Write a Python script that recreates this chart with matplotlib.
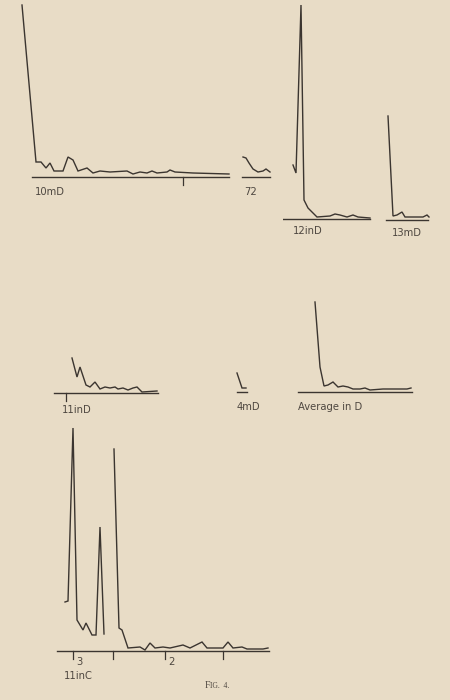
import matplotlib
matplotlib.use("Agg")
import matplotlib.pyplot as plt
import numpy as np

W, H = 450, 700
PAPER = "#e8dcc6"
INK = "#3b3530"
TXT = "#4e4740"

# ---- data: each trace = positions along the strip, heights above the baseline ----
# 10 m D
p10_x = [22, 36, 41, 46, 50, 54, 63, 68, 73, 78, 87, 93, 100, 110, 127, 133, 140,
         147, 152, 157, 167, 170, 175, 193, 229]
p10_y = [172, 15, 15, 9, 14, 6, 6, 20, 17, 6, 9, 4, 6, 5, 6, 3, 5, 4, 6, 4, 5, 7,
         5, 4, 3]
# 72
p72_x = [243, 246, 249, 253, 258, 263, 266, 270]
p72_y = [20, 19, 14, 8, 5, 6, 8, 5]
# 12 in D
p12_x = [293, 296, 301, 304, 308, 313, 317, 330, 335, 340, 347, 353, 358, 370]
p12_y = [54, 46, 214, 19, 11, 6, 2, 3, 5, 4, 2, 4, 2, 1]
# 13 m D
p13_x = [388, 393, 397, 402, 405, 423, 427, 429]
p13_y = [104, 4, 5, 8, 3, 3, 5, 3]
# 11 in D
p11d_x = [72, 77, 80, 86, 90, 95, 100, 105, 110, 115, 118, 123, 128, 133, 137,
          142, 157]
p11d_y = [35, 16, 26, 8, 6, 11, 4, 6, 5, 6, 4, 5, 3, 5, 6, 1, 2]
# 4 m D
p4_x = [237, 242, 246]
p4_y = [19, 4, 4]
# Average in D
pav_x = [315, 320, 324, 328, 333, 338, 343, 348, 353, 360, 365, 370, 383, 393,
         407, 411]
pav_y = [90, 25, 6, 7, 10, 5, 6, 5, 3, 3, 4, 2, 3, 3, 3, 4]
# 11 in C (two separate strokes, split by NaN)
p11c_x = [65, 68, 73, 77, 83, 86, 92, 96, 100, 104, np.nan,
          114, 119, 122, 128, 140, 145, 150, 155, 163, 170, 183, 190, 202, 207,
          223, 228, 233, 242, 247, 263, 268]
p11c_y = [49, 50, 223, 31, 21, 28, 16, 16, 124, 17, np.nan,
          202, 23, 21, 3, 4, 1, 8, 3, 4, 3, 6, 3, 9, 3, 3, 9, 3, 4, 2, 2, 3]

labels = ["10mD", "72", "12inD", "13mD", "11inD", "4mD", "Average in D", "11inC"]
c_tick_labels = ["3", "2"]

fig = plt.figure(figsize=(W / 100, H / 100), dpi=100)
fig.patch.set_facecolor(PAPER)

LW = 1.0


def panel(left, right, base, top, depth, xs, ys, base_l, base_r, ticks=()):
    ax = fig.add_axes([left / W, (H - base - depth) / H,
                       (right - left) / W, (top + depth) / H])
    ax.set_xlim(left, right)
    ax.set_ylim(-depth, top)
    ax.set_facecolor("none")
    for s in ax.spines.values():
        s.set_visible(False)
    ax.plot(xs, ys, color=INK, lw=LW, solid_joinstyle="miter")
    ax.plot([base_l, base_r], [0, 0], color=INK, lw=LW)
    for t in ticks:
        ax.plot([t, t], [0, -8], color=INK, lw=0.9)
    ax.set_xticks([])
    ax.set_yticks([])
    return ax


panel(10, 240, 177, 180, 12, p10_x, p10_y, 32, 229, ticks=[183])
panel(238, 275, 177, 25, 5, p72_x, p72_y, 242, 270)
panel(283, 375, 219, 220, 5, p12_x, p12_y, 283, 370)
panel(383, 432, 220, 110, 5, p13_x, p13_y, 386, 428)
panel(50, 162, 393, 40, 10, p11d_x, p11d_y, 54, 158, ticks=[66])
panel(232, 250, 392, 22, 5, p4_x, p4_y, 237, 247)
panel(295, 415, 392, 95, 5, pav_x, pav_y, 298, 412)
panel(55, 272, 651, 230, 12, p11c_x, p11c_y, 57, 269, ticks=[73, 113, 165, 223])


# labels (figure pixel positions)
def lab(x, y, s, size=7.2, **kw):
    fig.text(x / W, 1 - y / H, s, color=TXT, fontsize=size, va="center",
             ha="left", family="DejaVu Sans", **kw)


lab(35, 192, labels[0])
lab(244, 192, labels[1])
lab(293, 231, labels[2])
lab(392, 233, labels[3])
lab(62, 410, labels[4])
lab(237, 407, labels[5])
lab(298, 407, labels[6])
lab(64, 676, labels[7])
lab(76, 662, c_tick_labels[0])
lab(168, 662, c_tick_labels[1])

fig.text(205 / W, 1 - 686 / H, "F", color=TXT, fontsize=7, va="center",
         ha="left", family="Liberation Serif")
fig.text(210 / W, 1 - 686 / H, "IG.  4.", color=TXT, fontsize=5.5, va="center",
         ha="left", family="Liberation Serif")

fig.savefig("out.png", dpi=100, facecolor=PAPER)
